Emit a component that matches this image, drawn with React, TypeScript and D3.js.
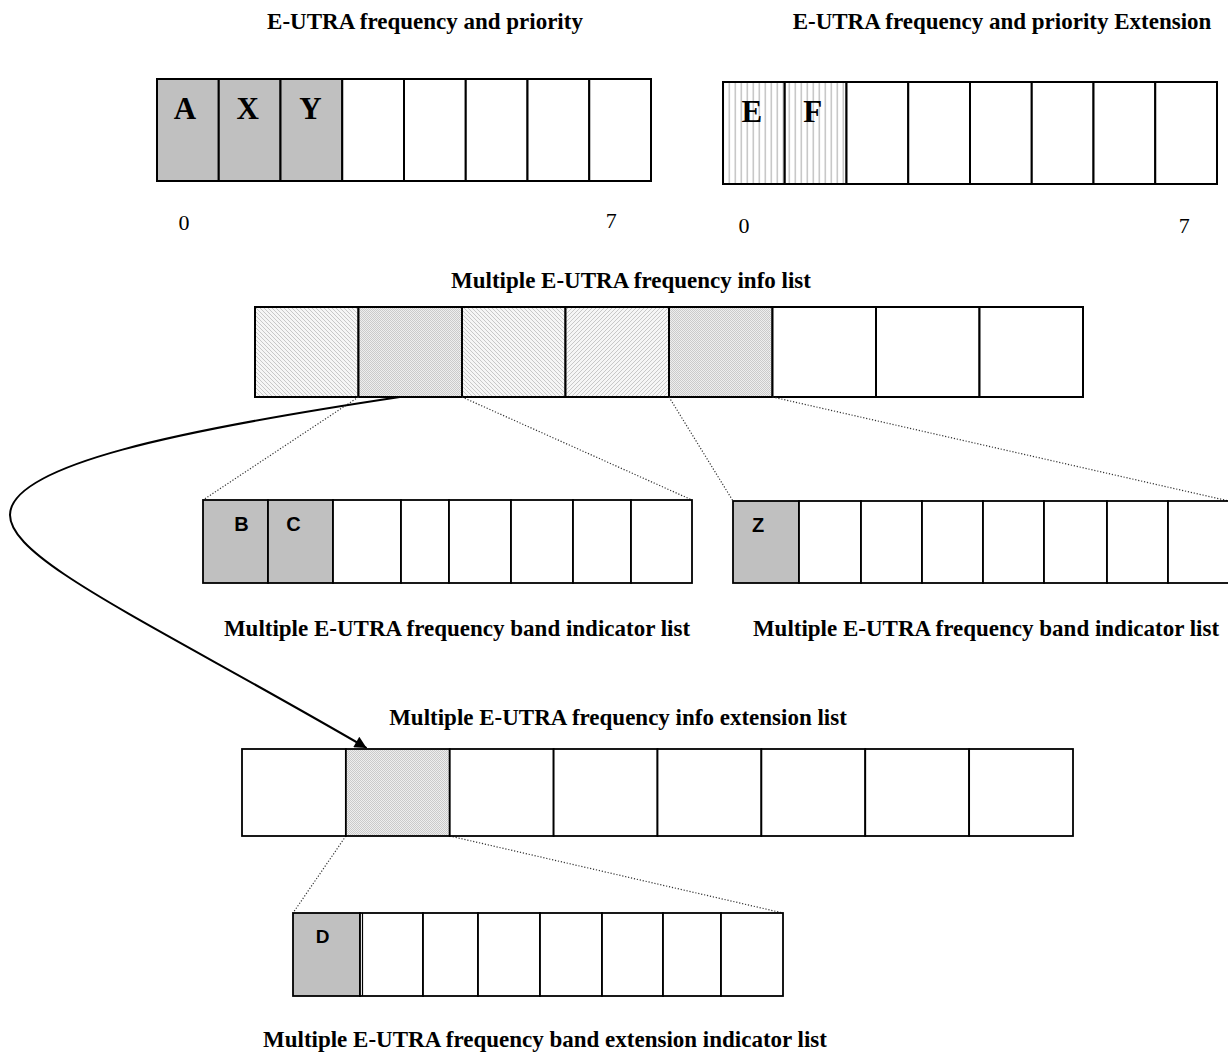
import React from "react";
import * as d3 from "d3";

// ---------- data ----------
const bitIndex = d3.range(8);
const tickLabels = ["0", "7"];

const priorityTitle = "E-UTRA frequency and priority";
const priorityLetters = ["A", "X", "Y", "", "", "", "", ""];
const priorityFill = ["solid", "solid", "solid", "none", "none", "none", "none", "none"];

const priorityExtTitle = "E-UTRA frequency and priority Extension";
const priorityExtLetters = ["E", "F", "", "", "", "", "", ""];
const priorityExtFill = ["vstripe", "vstripe", "none", "none", "none", "none", "none", "none"];

const infoListTitle = "Multiple E-UTRA frequency info list";
const infoListFill = ["hatchBack", "dots", "hatchBack", "hatchFwd", "dots", "none", "none", "none"];

const bandListTitle = "Multiple E-UTRA frequency band indicator list";
const bandListALetters = ["B", "C", "", "", "", "", "", ""];
const bandListAFill = ["solid", "solid", "none", "none", "none", "none", "none", "none"];
const bandListBLetters = ["Z", "", "", "", "", "", "", ""];
const bandListBFill = ["solid", "none", "none", "none", "none", "none", "none", "none"];

const infoExtTitle = "Multiple E-UTRA frequency info extension list";
const infoExtFill = ["none", "dots", "none", "none", "none", "none", "none", "none"];

const bandExtTitle = "Multiple E-UTRA frequency band extension indicator list";
const bandExtLetters = ["D", "", "", "", "", "", "", ""];
const bandExtFill = ["solid", "none", "none", "none", "none", "none", "none", "none"];

// which cell of a parent list expands into which child list
const expansions = [
  { parent: "info", cell: 1, child: "bandA" },
  { parent: "info", cell: 4, child: "bandB" },
  { parent: "infoExt", cell: 1, child: "bandExt" },
];

// ---------- layout ----------
const W = 1228;
const H = 1052;

type Box = { edges: number[]; y0: number; y1: number; sw: number };
const layout: Record<string, Box> = {
  prio: { edges: [157, 651], y0: 79, y1: 181, sw: 2 },
  prioExt: { edges: [723, 1217], y0: 82, y1: 184, sw: 2 },
  info: { edges: [255, 1083], y0: 307, y1: 397, sw: 2 },
  bandA: { edges: [203, 268, 333, 401, 449, 511, 573, 631, 692], y0: 500, y1: 583, sw: 1.8 },
  bandB: { edges: [733, 799, 861, 922, 983, 1044, 1107, 1168, 1229], y0: 501, y1: 583, sw: 1.8 },
  infoExt: { edges: [242, 1073], y0: 749, y1: 836, sw: 1.8 },
  bandExt: { edges: [293, 360, 423, 478, 540, 602, 663, 721, 783], y0: 913, y1: 996, sw: 1.8 },
};

function xScale(b: Box) {
  const dom = b.edges.length === 2 ? [0, 8] : d3.range(9);
  return d3.scaleLinear().domain(dom).range(b.edges);
}

const fillMap: Record<string, string> = {
  solid: "#c0c0c0",
  none: "#ffffff",
  vstripe: "url(#vstripe)",
  hatchBack: "url(#hatchBack)",
  hatchFwd: "url(#hatchFwd)",
  dots: "url(#dots)",
};

const serifBold = {
  fontFamily: "'Liberation Serif', 'Times New Roman', serif",
  fontWeight: 700,
} as const;
const sansBold = {
  fontFamily: "'Liberation Sans', Arial, sans-serif",
  fontWeight: 700,
} as const;

function Cells({
  box,
  fills,
  letters,
  letterStyle,
  letterSize,
  letterBaseline,
  letterDx,
}: {
  box: Box;
  fills: string[];
  letters?: string[];
  letterStyle?: any;
  letterSize?: number;
  letterBaseline?: number;
  letterDx?: number[];
}) {
  const x = xScale(box);
  return (
    <g>
      {bitIndex.map((i) => (
        <rect
          key={"r" + i}
          x={x(i)}
          y={box.y0}
          width={x(i + 1) - x(i)}
          height={box.y1 - box.y0}
          fill={fillMap[fills[i]]}
          stroke="#000"
          strokeWidth={box.sw}
        />
      ))}
      {letters &&
        bitIndex.map((i) =>
          letters[i] ? (
            <text
              key={"t" + i}
              x={(x(i) + x(i + 1)) / 2 + ((letterDx && letterDx[i]) || 0)}
              y={letterBaseline}
              textAnchor="middle"
              fontSize={letterSize}
              {...letterStyle}
            >
              {letters[i]}
            </text>
          ) : null
        )}
    </g>
  );
}

function Title({ x, y, text }: { x: number; y: number; text: string }) {
  return (
    <text x={x} y={y} textAnchor="middle" fontSize={23} {...serifBold} fill="#000">
      {text}
    </text>
  );
}

export default function App() {
  const xs: Record<string, any> = {};
  Object.keys(layout).forEach((k) => (xs[k] = xScale(layout[k])));

  // curved arrow from info cell 1 to infoExt cell 1
  const p = d3.path();
  const sx = xs.info(1.4);
  const sy = layout.info.y1;
  const ex = xs.infoExt(1.2);
  const ey = layout.infoExt.y0 - 1;
  p.moveTo(sx, sy);
  p.bezierCurveTo(180, 430, 10, 465, 10, 515);
  p.bezierCurveTo(10, 560, 150, 622, ex, ey);

  const prioX = xs.prio;
  const prioExtX = xs.prioExt;

  return (
    <svg
      width={W}
      height={H}
      viewBox={`0 0 ${W} ${H}`}
      style={{ position: "absolute", left: 0, top: 0, display: "block", background: "#fff" }}
    >
      <defs>
        <pattern id="vstripe" width={6} height={10} patternUnits="userSpaceOnUse">
          <rect width={6} height={10} fill="#fff" />
          <rect x={2.5} width={1.6} height={10} fill="#c8c8c8" />
        </pattern>
        <pattern id="hatchBack" width={4} height={4} patternUnits="userSpaceOnUse">
          <rect width={4} height={4} fill="#f6f6f6" />
          <path d="M-1,-1 L5,5 M3,-1 L5,1 M-1,3 L1,5" stroke="#c8c8c8" strokeWidth={1} />
        </pattern>
        <pattern id="hatchFwd" width={4} height={4} patternUnits="userSpaceOnUse">
          <rect width={4} height={4} fill="#f6f6f6" />
          <path d="M-1,5 L5,-1 M-1,1 L1,-1 M3,5 L5,3" stroke="#c8c8c8" strokeWidth={1} />
        </pattern>
        <pattern id="dots" width={2} height={2} patternUnits="userSpaceOnUse">
          <rect width={2} height={2} fill="#eeeeee" />
          <rect x={0} y={0} width={1} height={1} fill="#cacaca" />
          <rect x={1} y={1} width={1} height={1} fill="#cacaca" />
        </pattern>
        <marker
          id="arrow"
          viewBox="0 0 10 10"
          refX={10}
          refY={5}
          markerWidth={14}
          markerHeight={12}
          markerUnits="userSpaceOnUse"
          orient="auto"
        >
          <path d="M0,0 L10,5 L0,10 z" fill="#000" />
        </marker>
      </defs>

      {/* top titles */}
      <Title x={425} y={29} text={priorityTitle} />
      <Title x={1002} y={29} text={priorityExtTitle} />

      {/* priority arrays */}
      <Cells
        box={layout.prio}
        fills={priorityFill}
        letters={priorityLetters}
        letterStyle={serifBold}
        letterSize={31}
        letterBaseline={119}
        letterDx={[-3, -2, -1, 0, 0, 0, 0, 0]}
      />
      <Cells
        box={layout.prioExt}
        fills={priorityExtFill}
        letters={priorityExtLetters}
        letterStyle={serifBold}
        letterSize={31}
        letterBaseline={122}
        letterDx={[-2, -3, 0, 0, 0, 0, 0, 0]}
      />

      {/* bit index labels */}
      <g fontFamily="'Liberation Serif', 'Times New Roman', serif" fontSize={22} fill="#000" textAnchor="middle">
        <text x={prioX(0.5) - 4} y={230}>{tickLabels[0]}</text>
        <text x={prioX(7.5) - 9} y={228}>{tickLabels[1]}</text>
        <text x={prioExtX(0.5) - 10} y={233}>{tickLabels[0]}</text>
        <text x={prioExtX(7.5) - 2} y={233}>{tickLabels[1]}</text>
      </g>

      {/* info list */}
      <Title x={631} y={288} text={infoListTitle} />
      <Cells box={layout.info} fills={infoListFill} />

      {/* dotted expansion lines */}
      <g stroke="#333" strokeWidth={1.2} strokeDasharray="1.2,1.8" fill="none">
        {expansions.map((e, i) => {
          const pb = layout[e.parent];
          const cb = layout[e.child];
          const px = xs[e.parent];
          const cx = xs[e.child];
          return (
            <g key={i}>
              <line x1={px(e.cell)} y1={pb.y1} x2={cx(0)} y2={cb.y0} />
              <line x1={px(e.cell + 1)} y1={pb.y1} x2={cx(8)} y2={cb.y0} />
            </g>
          );
        })}
      </g>

      {/* band indicator lists */}
      <Cells
        box={layout.bandA}
        fills={bandListAFill}
        letters={bandListALetters}
        letterStyle={sansBold}
        letterSize={20}
        letterBaseline={531}
        letterDx={[6, -7, 0, 0, 0, 0, 0, 0]}
      />
      <Cells
        box={layout.bandB}
        fills={bandListBFill}
        letters={bandListBLetters}
        letterStyle={sansBold}
        letterSize={20}
        letterBaseline={532}
        letterDx={[-8, 0, 0, 0, 0, 0, 0, 0]}
      />
      <Title x={457} y={636} text={bandListTitle} />
      <Title x={986} y={636} text={bandListTitle} />

      {/* info extension list */}
      <Title x={618} y={725} text={infoExtTitle} />
      <Cells box={layout.infoExt} fills={infoExtFill} />

      {/* band extension indicator list */}
      <Cells
        box={layout.bandExt}
        fills={bandExtFill}
        letters={bandExtLetters}
        letterStyle={sansBold}
        letterSize={19}
        letterBaseline={943}
        letterDx={[-4, 0, 0, 0, 0, 0, 0, 0]}
      />
      <line x1={xs.bandExt(1) + 2.5} y1={layout.bandExt.y0} x2={xs.bandExt(1) + 2.5} y2={layout.bandExt.y1} stroke="#000" strokeWidth={1.2} />
      <Title x={545} y={1047} text={bandExtTitle} />

      {/* curved arrow */}
      <path d={p.toString()} fill="none" stroke="#000" strokeWidth={2} markerEnd="url(#arrow)" />
    </svg>
  );
}
